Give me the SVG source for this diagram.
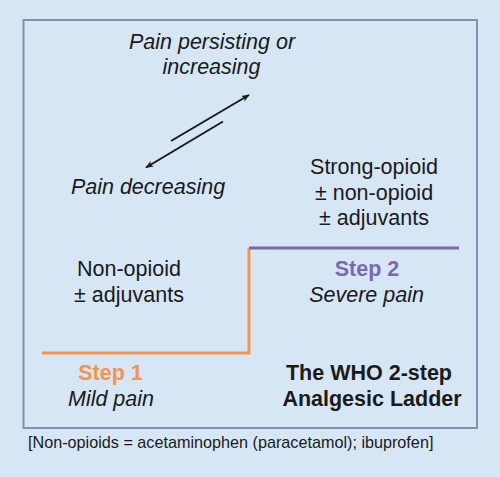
<svg xmlns="http://www.w3.org/2000/svg" width="500" height="477" viewBox="0 0 500 477">
<style>
text{font-family:"Liberation Sans",Arial,sans-serif;font-size:21.5px;fill:#1a1a1a;text-anchor:middle}
.i{font-style:italic}
.b{font-weight:bold}
.foot{font-size:16.2px;text-anchor:start}
</style>
<defs>
<marker id="ah" viewBox="0 0 10 10" refX="9" refY="5" markerWidth="10" markerHeight="8" markerUnits="userSpaceOnUse" orient="auto">
<path d="M0,1 L10,5 L0,9 L2.5,5 Z" fill="#1a1a1a"/>
</marker>
</defs>
<rect x="0" y="0" width="500" height="477" fill="#d6e6f5"/>
<rect x="23.5" y="20" width="453.5" height="408" fill="#d6e6f5" stroke="#7e93b2" stroke-width="2"/>
<g id="connectors" stroke="#1a1a1a" stroke-width="2" fill="none">
<line x1="171" y1="141" x2="249" y2="95" marker-end="url(#ah)"/>
<line x1="223" y1="121.5" x2="146" y2="167.5" marker-end="url(#ah)"/>
</g>
<g id="ladder" fill="none" stroke-width="3">
<polyline points="42,353 249,353 249,248" stroke="#f7934c"/>
<line x1="249" y1="248" x2="459" y2="248" stroke="#7a68b3"/>
</g>
<g id="increase-label">
<text class="i" x="212" y="49">Pain persisting or</text>
<text class="i" x="211.5" y="74">increasing</text>
</g>
<g id="decrease-label">
<text class="i" x="148" y="194">Pain decreasing</text>
</g>
<g id="step2-drugs">
<text x="374" y="174">Strong-opioid</text>
<text x="374" y="200">± non-opioid</text>
<text x="374" y="225">± adjuvants</text>
</g>
<g id="step1-drugs">
<text x="129" y="276">Non-opioid</text>
<text x="129" y="301.5">± adjuvants</text>
</g>
<g id="step2">
<text class="b" x="367" y="276" style="fill:#7a68b3">Step 2</text>
<text class="i" x="366.5" y="302">Severe pain</text>
</g>
<g id="step1">
<text class="b" x="110.5" y="380" style="fill:#f7934c">Step 1</text>
<text class="i" x="111" y="405.5">Mild pain</text>
</g>
<g id="title">
<text class="b" x="369" y="380">The WHO 2-step</text>
<text class="b" x="372" y="405.5">Analgesic Ladder</text>
</g>
<g id="footnote">
<text class="foot" x="28" y="448">[Non-opioids = acetaminophen (paracetamol); ibuprofen]</text>
</g>
</svg>
